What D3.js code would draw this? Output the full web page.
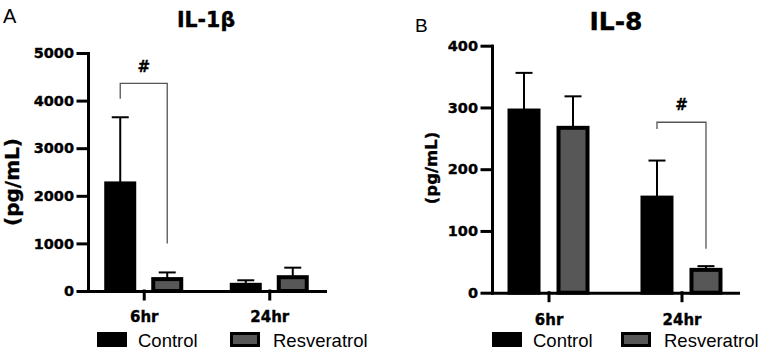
<!DOCTYPE html>
<html>
<head>
<meta charset="utf-8">
<script src="https://cdn.jsdelivr.net/npm/d3@7"></script>
<style>
  body { margin: 0; background: #fff; }
  .bold { font-family: "DejaVu Sans", sans-serif; font-weight: bold; stroke: #000; stroke-width: 0.35px; }
  .reg { font-family: "Liberation Sans", Arial, sans-serif; }
</style>
</head>
<body>
<script>
// values (mean and SD, pg/mL)
const groups = ["6hr", "24hr"];
const series = ["Control", "Resveratrol"];

const il1bControlMean = [2260, 130];
const il1bControlSd = [1390, 95];
const il1bResvMean = [250, 290];
const il1bResvSd = [140, 200];
const il1bTicks = [0, 1000, 2000, 3000, 4000, 5000];
// significance bracket: group, top, left leg end, right leg end, # position
const il1bBracket = ["6hr", 4360, 4040, 1000, 4600];

const il8ControlMean = [295, 154];
const il8ControlSd = [61, 60];
const il8ResvMean = [267, 37];
const il8ResvSd = [51, 6];
const il8Ticks = [0, 100, 200, 300, 400];
const il8Bracket = ["24hr", 276, 265, 71, 296];

const fills = {"Control": "#000", "Resveratrol": "#575757"};

function main() {
    let svg = d3.select("body").append("svg")
        .attr("width", 767)
        .attr("height", 354);

    drawPanel(svg, {
        letter: "A", letterX: 3, letterY: 23, letterSize: 20,
        title: "IL-1β", titleX: 206, titleY: 27, titleSize: 20.5,
        control: [il1bControlMean, il1bControlSd],
        resv: [il1bResvMean, il1bResvSd],
        ticks: il1bTicks, bracket: il1bBracket,
        x0: 88, x1: 325, y0: 291, y1: 53, pad: 0.444,
        half: 47, barW: 28, xPad: 12,
        labelX: 12, labelY: 182, labelSize: 20,
        legend: [97, 230]
    });

    drawPanel(svg, {
        letter: "B", letterX: 415, letterY: 32, letterSize: 19,
        title: "IL-8", titleX: 616, titleY: 30, titleSize: 25,
        control: [il8ControlMean, il8ControlSd],
        resv: [il8ResvMean, il8ResvSd],
        ticks: il8Ticks, bracket: il8Bracket,
        x0: 492, x1: 738, y0: 292.7, y1: 45.7, pad: 0.425,
        half: 49, barW: 29, xPad: 13.5,
        labelX: 431.5, labelY: 168, labelSize: 16.5,
        legend: [492, 621]
    });
}

function drawPanel(svg, c) {
    let g = svg.append("g");

    let yScale = d3.scaleLinear()
        .domain([0, d3.max(c.ticks)])
        .range([c.y0, c.y1]);
    let xScale = d3.scalePoint().domain(groups).range([c.x0, c.x1]).padding(c.pad);
    let xSub = d3.scaleBand().domain(series).range([-c.half, c.half]);

    let rows = [];
    groups.forEach((grp, i) => {
        rows.push({grp: grp, s: "Control", mean: c.control[0][i], sd: c.control[1][i]});
        rows.push({grp: grp, s: "Resveratrol", mean: c.resv[0][i], sd: c.resv[1][i]});
    });
    let cx = d => xScale(d.grp) + xSub(d.s) + xSub.bandwidth() / 2;

    // error bars (upper only), under the bars
    let err = g.append("g").attr("stroke", "#000").attr("stroke-width", 2);
    err.selectAll(".stem").data(rows).enter().append("line")
        .attr("x1", cx).attr("x2", cx)
        .attr("y1", d => yScale(d.mean))
        .attr("y2", d => yScale(d.mean + d.sd));
    err.selectAll(".cap").data(rows).enter().append("line")
        .attr("x1", d => cx(d) - 8.5).attr("x2", d => cx(d) + 8.5)
        .attr("y1", d => yScale(d.mean + d.sd))
        .attr("y2", d => yScale(d.mean + d.sd));

    g.selectAll("rect.bar").data(rows).enter().append("rect")
        .attr("class", "bar")
        .attr("x", d => cx(d) - c.barW / 2)
        .attr("width", c.barW)
        .attr("y", d => yScale(d.mean))
        .attr("height", d => c.y0 - yScale(d.mean))
        .attr("fill", d => fills[d.s])
        .attr("stroke", "#000")
        .attr("stroke-width", 4);

    // axes
    let yAxis = d3.axisLeft(yScale).tickValues(c.ticks).tickFormat(d3.format("d"))
        .tickSize(10).tickSizeOuter(0).tickPadding(4);
    let ya = g.append("g").attr("transform", `translate(${c.x0},0)`).call(yAxis);
    let xAxis = d3.axisBottom(xScale).tickSize(8).tickSizeOuter(0).tickPadding(c.xPad);
    let xa = g.append("g").attr("transform", `translate(0,${c.y0})`).call(xAxis);
    [ya, xa].forEach(a => {
        a.selectAll("path, line").attr("stroke", "#000").attr("stroke-width", 3)
            .attr("stroke-linecap", "square");
        a.selectAll("text").attr("class", "bold").attr("fill", "#000");
    });
    ya.selectAll("text").style("font-size", "14.5px");
    xa.selectAll("text").style("font-size", "15px");

    // bracket
    let b = c.bracket;
    let bl = xScale(b[0]) + xSub("Control") + xSub.bandwidth() / 2;
    let br = xScale(b[0]) + xSub("Resveratrol") + xSub.bandwidth() / 2;
    g.append("path")
        .attr("d", `M${bl},${yScale(b[2])}V${yScale(b[1])}H${br}V${yScale(b[3])}`)
        .attr("fill", "none").attr("stroke", "#555").attr("stroke-width", 1.3);
    g.append("text").attr("class", "bold")
        .attr("x", (bl + br) / 2).attr("y", yScale(b[4]))
        .attr("text-anchor", "middle")
        .style("font-size", "15px")
        .text("#");

    // titles
    g.append("text").attr("class", "reg")
        .attr("x", c.letterX).attr("y", c.letterY)
        .style("font-size", c.letterSize + "px")
        .text(c.letter);
    g.append("text").attr("class", "bold")
        .attr("x", c.titleX).attr("y", c.titleY)
        .attr("text-anchor", "middle")
        .style("font-size", c.titleSize + "px")
        .text(c.title);
    g.append("text").attr("class", "bold")
        .attr("transform", `translate(${c.labelX},${c.labelY}) rotate(-90)`)
        .attr("text-anchor", "middle")
        .attr("dy", "0.35em")
        .style("font-size", c.labelSize + "px")
        .text("(pg/mL)");

    // legend
    let lg = g.append("g");
    series.forEach((s, i) => {
        let lx = c.legend[i];
        lg.append("rect")
            .attr("x", lx + 1.5).attr("y", 333.5)
            .attr("width", 27).attr("height", 12)
            .attr("fill", fills[s])
            .attr("stroke", "#000").attr("stroke-width", 3);
        lg.append("text").attr("class", "reg")
            .attr("x", lx + (i == 0 ? 41 : 43)).attr("y", 347)
            .style("font-size", "18.5px")
            .text(s);
    });
}

main()
</script>
</body>
</html>
